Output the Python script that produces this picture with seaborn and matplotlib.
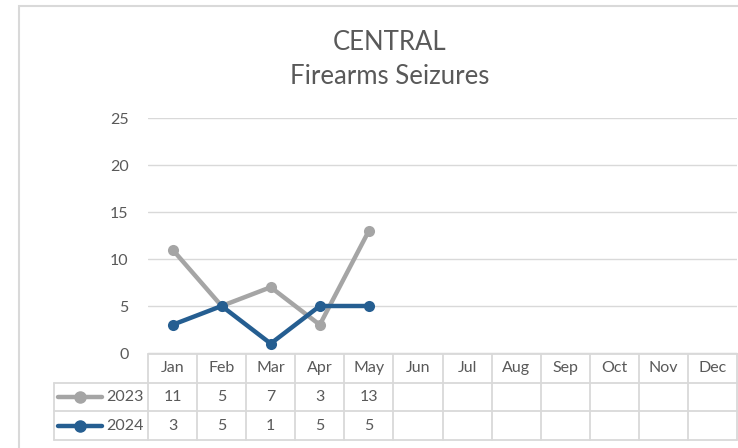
import seaborn as sns
import pandas as pd
import matplotlib.pyplot as plt
from matplotlib.patches import Rectangle

# chart data
months = ['Jan', 'Feb', 'Mar', 'Apr', 'May', 'Jun', 'Jul', 'Aug', 'Sep', 'Oct', 'Nov', 'Dec']
seizures_2023 = [11, 5, 7, 3, 13]
seizures_2024 = [3, 5, 1, 5, 5]
years = ['2023', '2024']
colors = {'2023': '#A5A5A5', '2024': '#255E91'}

rows = []
for year, vals in zip(years, [seizures_2023, seizures_2024]):
    for i, v in enumerate(vals):
        rows.append({'month_idx': i, 'month': months[i], 'year': year, 'count': v})
df = pd.DataFrame(rows)

sns.set_style('white')
plt.rcParams['font.family'] = ['Lato', 'DejaVu Sans']
text_col = '#595959'
grid_col = '#D9D9D9'
fs = 11.5

fig = plt.figure(figsize=(7.38, 4.48), dpi=100)
W, H = 738, 448

# outer chart border
fig.patches.append(Rectangle((19 / W, -0.1), 1.2, 1.1 - 6 / H, transform=fig.transFigure,
                             fill=False, edgecolor=grid_col, lw=1.5))

# title
fig.text(390 / W, 1 - 43 / H, 'CENTRAL', ha='center', va='center', fontsize=18.5, color=text_col)
fig.text(390 / W, 1 - 77 / H, 'Firearms Seizures', ha='center', va='center', fontsize=18.5, color=text_col)

# main plot
ax = fig.add_axes([148 / W, 1 - 353 / H, (737 - 148) / W, (353 - 118) / H])
sns.lineplot(data=df, x='month_idx', y='count', hue='year', palette=colors,
             marker='o', markersize=8, markeredgewidth=0, linewidth=3.2,
             legend=False, ax=ax)
ax.set_xlim(-0.5, 11.5)
ax.set_ylim(0, 25)
ax.set_yticks(range(0, 26, 5))
ax.set_xticks([])
ax.set_xlabel('')
ax.set_ylabel('')
ax.grid(axis='y', color=grid_col, lw=1)
ax.set_axisbelow(True)
for s in ['top', 'right', 'left']:
    ax.spines[s].set_visible(False)
ax.spines['bottom'].set_color(grid_col)
ax.tick_params(axis='y', length=0, pad=14, labelsize=fs, labelcolor=text_col)

# data table below the plot
col_w = (737 - 148) / 12
left_units = (148 - 54) / col_w
tax = fig.add_axes([54 / W, 1 - 440 / H, (737 - 54) / W, (440 - 354) / H])
tax.set_xlim(-0.5 - left_units, 11.5)
tax.set_ylim(3, 0)
tax.axis('off')

lk = dict(color=grid_col, lw=1.3, clip_on=False)
tax.plot([-0.5, 11.5], [0, 0], **lk)
for r in [1, 2, 3]:
    tax.plot([-0.5 - left_units, 11.5], [r, r], **lk)
for c in range(13):
    tax.plot([c - 0.5, c - 0.5], [0, 3], **lk)
tax.plot([-0.5 - left_units] * 2, [1, 3], **lk)

for i, m in enumerate(months):
    tax.text(i, 0.5, m, ha='center', va='center', fontsize=fs, color=text_col)
for r, (year, vals) in enumerate(zip(years, [seizures_2023, seizures_2024]), start=1):
    for i, v in enumerate(vals):
        tax.text(i, r + 0.5, str(v), ha='center', va='center', fontsize=fs, color=text_col)
    x0 = -0.5 - left_units + 4 / col_w
    x1 = x0 + 44 / col_w
    tax.plot([x0, x1], [r + 0.5, r + 0.5], color=colors[year], lw=3.2, solid_capstyle='round')
    tax.plot([(x0 + x1) / 2], [r + 0.5], 'o', color=colors[year], markersize=8)
    tax.text(-0.5 - 4 / col_w, r + 0.5, year, ha='right', va='center', fontsize=fs, color=text_col)

fig.savefig('out.png', dpi=100)
